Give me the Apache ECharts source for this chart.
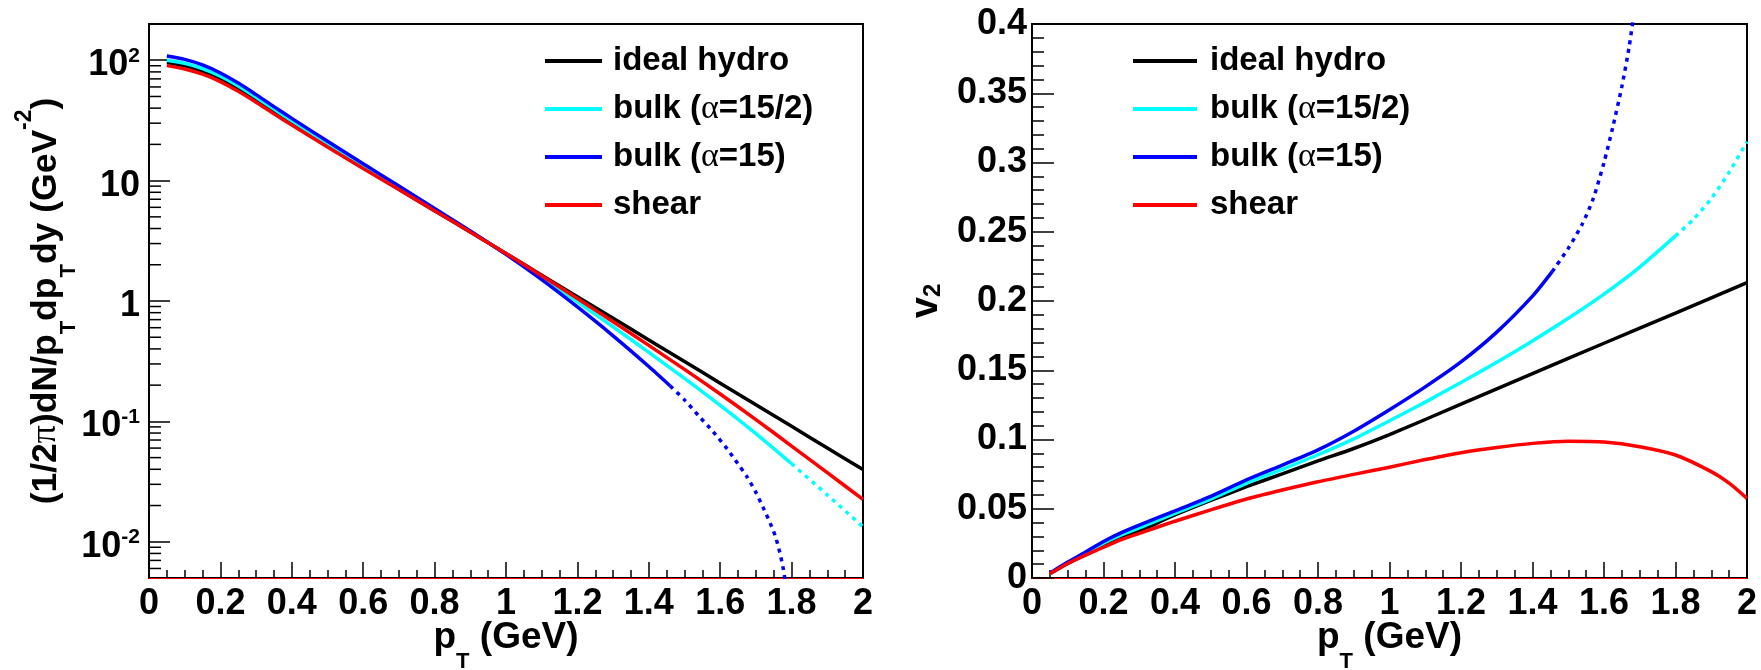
<!DOCTYPE html>
<html>
<head>
<meta charset="utf-8">
<script src="https://cdn.jsdelivr.net/npm/echarts@6/dist/echarts.min.js"></script>
<style>html,body{margin:0;padding:0;background:#fff}#c{width:1761px;height:670px}</style>
</head>
<body>
<div id="c"></div>
<script>
// ---------------- data ----------------
const seriesNames = ['ideal hydro', 'bulk (α=15/2)', 'bulk (α=15)', 'shear'];
const seriesColors = ['#000000', '#00ffff', '#0000ff', '#ff0000'];

// Left panel: (1/2pi) dN / pT dpT dy  vs pT
const specIdeal = [[0.05,95.5],[0.1,89.7],[0.15,80.8],[0.2,69.6],[0.25,57.5],[0.3,46.3],[0.35,37.0],[0.4,29.7],[0.5,19.3],[0.6,12.8],[0.7,8.48],[0.8,5.63],[0.9,3.74],[1.0,2.48],[1.1,1.64],[1.2,1.085],[1.3,0.718],[1.4,0.475],[1.5,0.314],[1.6,0.2077],[1.7,0.1374],[1.8,0.0909],[1.9,0.0601],[2.0,0.0398]];
const specBulkHalf = [[0.05,100],[0.1,94.3],[0.15,85.4],[0.2,73.7],[0.25,61.1],[0.3,49.2],[0.35,39.3],[0.4,31.4],[0.5,20.3],[0.6,13.4],[0.7,8.80],[0.8,5.79],[0.9,3.79],[1.0,2.46],[1.1,1.567],[1.2,0.985],[1.3,0.611],[1.4,0.3746],[1.5,0.2275],[1.6,0.1357],[1.7,0.0791],[1.8,0.0445]];
const specBulkHalfDotted = [[1.8,0.0445],[1.9,0.0245],[2.0,0.0133]];
const specBulk = [[0.05,108.4],[0.1,101.7],[0.15,91.5],[0.2,78.4],[0.25,64.6],[0.3,51.8],[0.35,41.2],[0.4,32.9],[0.5,21.2],[0.6,13.8],[0.7,9.03],[0.8,5.88],[0.9,3.82],[1.0,2.44],[1.1,1.503],[1.2,0.892],[1.3,0.514],[1.4,0.286],[1.46,0.197]];
const specBulkDotted = [[1.46,0.197],[1.5,0.151],[1.54,0.111],[1.58,0.0822],[1.62,0.0589],[1.65,0.0442],[1.675,0.0347],[1.7,0.0257],[1.72,0.0193],[1.74,0.0143],[1.755,0.0110],[1.767,0.00813],[1.777,0.00589],[1.785,0.00417]];
const specShear = [[0.05,90.2],[0.1,84.6],[0.15,76.6],[0.2,66.5],[0.25,55.2],[0.3,44.8],[0.35,35.9],[0.4,29.0],[0.5,19.0],[0.6,12.6],[0.7,8.42],[0.8,5.63],[0.9,3.74],[1.0,2.48],[1.1,1.622],[1.2,1.048],[1.3,0.673],[1.4,0.428],[1.5,0.2704],[1.6,0.1689],[1.7,0.1035],[1.8,0.0624],[1.9,0.0375],[2.0,0.02246]];

// Right panel: v2 vs pT
const v2Ideal = [[0.05,0.003],[0.1,0.0105],[0.15,0.0168],[0.2,0.0232],[0.25,0.0288],[0.3,0.0339],[0.4,0.0455],[0.5,0.056],[0.6,0.0659],[0.7,0.0752],[0.8,0.0845],[0.9,0.0935],[1.0,0.1035],[1.2,0.1255],[1.4,0.1475],[1.6,0.1695],[1.8,0.1912],[2.0,0.2132]];
const v2BulkHalf = [[0.05,0.003],[0.1,0.011],[0.15,0.0178],[0.2,0.0252],[0.25,0.0312],[0.3,0.0362],[0.4,0.0467],[0.5,0.057],[0.6,0.0684],[0.7,0.0785],[0.8,0.089],[0.9,0.1005],[1.0,0.1135],[1.1,0.127],[1.2,0.1412],[1.3,0.1558],[1.4,0.1712],[1.5,0.1875],[1.6,0.205],[1.7,0.2245],[1.8,0.247]];
const v2BulkHalfDotted = [[1.8,0.247],[1.85,0.259],[1.9,0.274],[1.95,0.293],[2.0,0.315]];
const v2Bulk = [[0.05,0.0035],[0.1,0.0115],[0.15,0.0188],[0.2,0.0264],[0.25,0.0328],[0.3,0.0382],[0.4,0.0485],[0.5,0.059],[0.6,0.0708],[0.7,0.0815],[0.8,0.0925],[0.9,0.106],[1.0,0.1215],[1.1,0.138],[1.2,0.156],[1.3,0.1775],[1.4,0.2035],[1.455,0.2212]];
const v2BulkDotted = [[1.455,0.2212],[1.5,0.238],[1.54,0.256],[1.57,0.274],[1.6,0.300],[1.625,0.326],[1.65,0.355],[1.67,0.383],[1.685,0.41],[1.7,0.44]];
const v2Shear = [[0.05,0.003],[0.1,0.0105],[0.15,0.0165],[0.2,0.0222],[0.25,0.0278],[0.3,0.0322],[0.4,0.041],[0.5,0.0492],[0.6,0.057],[0.7,0.0635],[0.8,0.0695],[0.9,0.0748],[1.0,0.080],[1.1,0.0855],[1.2,0.0905],[1.3,0.0942],[1.4,0.0972],[1.5,0.0988],[1.6,0.0982],[1.7,0.0948],[1.8,0.0888],[1.9,0.0768],[1.95,0.0685],[2.0,0.0575]];

// Tick labels of the log axis
const logTickValues = [0.01, 0.1, 1, 10, 100];
const logTickLabels = ['{m|10}{p|-2}', '{m|10}{p|-1}', '{m|1}', '{m|10}', '{m|10}{p|2}'];
const logMinorTickValues = [0.006,0.007,0.008,0.009,0.02,0.03,0.04,0.05,0.06,0.07,0.08,0.09,0.2,0.3,0.4,0.5,0.6,0.7,0.8,0.9,2,3,4,5,6,7,8,9,20,30,40,50,60,70,80,90];

// Axis titles
const xTitle = '{m|p}{t|T}{m| (GeV)}';
const yTitleLeft = '{m|(1/2}{g|π}{m|)dN/p}{t|T}{m|dp}{t|T}{m|dy (GeV}{s|-2}{m|)}';
const yTitleRight = '{m|v}{u|2}';

// ---------------- chart ----------------
const FONT = "'Liberation Sans', Arial, Helvetica, sans-serif";
const SERIF = "'Liberation Serif', 'DejaVu Serif', serif";

const tickRich = {
  m: {fontFamily: FONT, fontWeight: 'bold', fontSize: 36, lineHeight: 36, color: '#000'},
  p: {fontFamily: FONT, fontWeight: 'bold', fontSize: 21, lineHeight: 36, color: '#000', padding: [0, 0, 19, 0]}
};
const leftTitleRich = {
  m: {fontFamily: FONT, fontWeight: 'bold', fontSize: 35.5, lineHeight: 40, color: '#000'},
  g: {fontFamily: SERIF, fontWeight: 'normal', fontSize: 36, lineHeight: 40, color: '#000'},
  t: {fontFamily: FONT, fontWeight: 'bold', fontSize: 22, lineHeight: 40, color: '#000', padding: [46, 0, 0, 0]},
  s: {fontFamily: FONT, fontWeight: 'bold', fontSize: 23, lineHeight: 40, color: '#000', padding: [0, 0, 42, 0]}
};
const rightTitleRich = {
  m: {fontFamily: FONT, fontWeight: 'bold', fontSize: 38, lineHeight: 40, color: '#000'},
  u: {fontFamily: FONT, fontWeight: 'bold', fontSize: 24, lineHeight: 40, color: '#000', padding: [12, 0, 0, 0]}
};
const xTitleRich = {
  m: {fontFamily: FONT, fontWeight: 'bold', fontSize: 37, lineHeight: 40, color: '#000'},
  t: {fontFamily: FONT, fontWeight: 'bold', fontSize: 22, lineHeight: 40, color: '#000', padding: [48, 0, 0, 0]}
};

function xAxisCfg(gridIndex) {
  return {
    type: 'value', gridIndex: gridIndex, min: 0, max: 2, interval: 0.2,
    axisLine: {show: true, onZero: false, lineStyle: {color: '#ff0000', width: 1}},
    axisTick: {show: true, inside: true, length: 16, lineStyle: {color: '#000', width: 1.5}},
    minorTick: {show: true, splitNumber: 4, length: 8, lineStyle: {color: '#000', width: 1.5}},
    splitLine: {show: false}, minorSplitLine: {show: false},
    axisLabel: {color: '#000', fontFamily: FONT, fontWeight: 'bold', fontSize: 36, lineHeight: 36, margin: 8},
    name: xTitle, nameLocation: 'middle', nameGap: 40, nameMoveOverlap: false,
    nameTextStyle: {rich: xTitleRich}
  };
}
function line(name, data, ci, xi, yi, dotted) {
  return {
    type: 'line', name: name, data: data, xAxisIndex: xi, yAxisIndex: yi,
    showSymbol: false, symbol: 'none', smooth: 0.25, clip: true,
    silent: true, animation: false, z: 3,
    lineStyle: {color: seriesColors[ci], width: 3.5, type: dotted ? [4, 5] : 'solid', cap: 'butt'},
    itemStyle: {color: seriesColors[ci]}
  };
}
function legendCfg(left, itemWidth, textPad) {
  return {
    show: true, orient: 'vertical', left: left, top: 41, padding: 0,
    icon: 'rect', itemWidth: itemWidth, itemHeight: 4, itemGap: 8, selectedMode: false,
    data: seriesNames,
    formatter: function (name) {
      if (name.indexOf('α') < 0) return '{n|' + name + '}';
      const parts = name.split('α');
      return '{n|' + parts[0] + '}{a|α}{n|' + parts[1] + '}';
    },
    textStyle: {
      color: '#000', fontFamily: FONT, fontWeight: 'bold', fontSize: 33, lineHeight: 40, padding: [0, 0, 0, textPad],
      rich: {
        n: {fontFamily: FONT, fontWeight: 'bold', fontSize: 33, lineHeight: 40, color: '#000'},
        a: {fontFamily: SERIF, fontWeight: 'normal', fontSize: 34, lineHeight: 40, color: '#000'}
      }
    }
  };
}

const option = {
  backgroundColor: '#ffffff',
  animation: false,
  grid: [
    {left: 149, right: 898, top: 24, bottom: 92, show: true, borderColor: '#000', borderWidth: 2, backgroundColor: 'transparent', outerBoundsMode: 'none', containLabel: false},
    {left: 1032, right: 14, top: 24, bottom: 92, show: true, borderColor: '#000', borderWidth: 2, backgroundColor: 'transparent', outerBoundsMode: 'none', containLabel: false}
  ],
  legend: [legendCfg(545, 57, 6), legendCfg(1133, 64, 8)],
  xAxis: [xAxisCfg(0), xAxisCfg(1)],
  yAxis: [
    {
      type: 'log', logBase: 10, gridIndex: 0, min: 0.005, max: 200,
      axisLine: {show: true, lineStyle: {color: '#000', width: 1.5}},
      axisTick: {show: true, inside: true, length: 21, lineStyle: {color: '#000', width: 1.5}},
      splitLine: {show: false},
      axisLabel: {
        showMinLabel: false, showMaxLabel: false, margin: 9, padding: [10, 0, 0, 0],
        formatter: function (v) {
          const e = Math.round(Math.log10(v));
          for (let i = 0; i < logTickValues.length; i++) {
            if (Math.round(Math.log10(logTickValues[i])) === e) return logTickLabels[i];
          }
          return '';
        },
        rich: tickRich
      },
      name: yTitleLeft, nameLocation: 'middle', nameGap: 83, nameRotate: 90, nameMoveOverlap: false,
      nameTextStyle: {rich: leftTitleRich}
    },
    {
      type: 'value', gridIndex: 1, min: 0, max: 0.4, interval: 0.05,
      axisLine: {show: true, onZero: false, lineStyle: {color: '#000', width: 1.5}},
      axisTick: {show: true, inside: true, length: 22, lineStyle: {color: '#000', width: 1.5}},
      minorTick: {show: true, splitNumber: 5, length: 12, lineStyle: {color: '#000', width: 1.5}},
      splitLine: {show: false}, minorSplitLine: {show: false},
      axisLabel: {color: '#000', fontFamily: FONT, fontWeight: 'bold', fontSize: 36, lineHeight: 36, margin: 5, padding: [7, 0, 0, 0]},
      name: yTitleRight, nameLocation: 'middle', nameGap: 85, nameRotate: 90, nameMoveOverlap: false,
      nameTextStyle: {rich: rightTitleRich}
    }
  ],
  series: [
    line(seriesNames[0], specIdeal, 0, 0, 0, false),
    line(seriesNames[1], specBulkHalf, 1, 0, 0, false),
    line(seriesNames[1], specBulkHalfDotted, 1, 0, 0, true),
    line(seriesNames[2], specBulk, 2, 0, 0, false),
    line(seriesNames[2], specBulkDotted, 2, 0, 0, true),
    line(seriesNames[3], specShear, 3, 0, 0, false),
    line(seriesNames[0], v2Ideal, 0, 1, 1, false),
    line(seriesNames[1], v2BulkHalf, 1, 1, 1, false),
    line(seriesNames[1], v2BulkHalfDotted, 1, 1, 1, true),
    line(seriesNames[2], v2Bulk, 2, 1, 1, false),
    line(seriesNames[2], v2BulkDotted, 2, 1, 1, true),
    line(seriesNames[3], v2Shear, 3, 1, 1, false),
    {
      type: 'custom', name: 'minor ticks', xAxisIndex: 0, yAxisIndex: 0, silent: true, clip: false, z: 4,
      data: logMinorTickValues.map(v => [0, v]),
      renderItem: function (params, api) {
        const p = api.coord([api.value(0), api.value(1)]);
        return {type: 'line', shape: {x1: p[0], y1: p[1], x2: p[0] + 12, y2: p[1]}, style: {stroke: '#000', lineWidth: 1.5}};
      }
    }
  ]
};

const chart = echarts.init(document.getElementById('c'), null, {renderer: 'canvas', width: 1761, height: 670});
chart.setOption(option);
</script>
</body>
</html>
